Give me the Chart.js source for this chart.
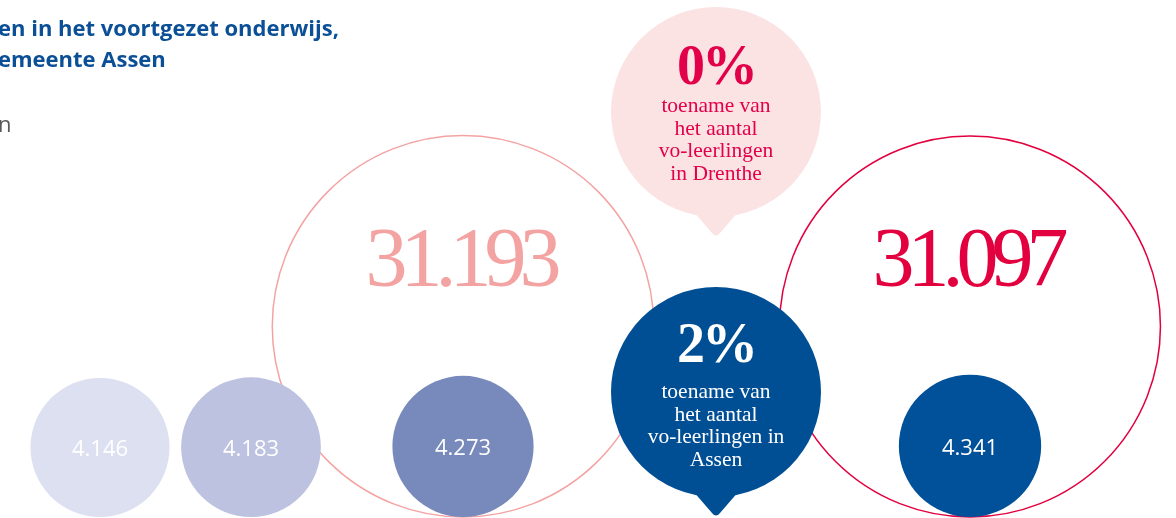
<!DOCTYPE html>
<html>
<head>
<meta charset="utf-8">
<script src="https://cdn.jsdelivr.net/npm/chart.js@4.4.1/dist/chart.umd.min.js"></script>
<style>
  body { margin: 0; background: #fff; }
  #wrap { position: relative; width: 1176px; height: 518px; overflow: hidden; }
  #chart { position: absolute; left: 0; top: 0; }
  .titel { position: absolute; left: -2px; font-family: "Open Sans", sans-serif; font-size: 22px; line-height: 31px; white-space: nowrap; }
  #t1 { top: 12px; color: #0b4f96; font-weight: 700; }
  #t2 { top: 108px; color: #58595b; }
</style>
</head>
<body>
<div id="wrap">
  <canvas id="chart" width="1176" height="518"></canvas>
  <div class="titel" id="t1">en in het voortgezet onderwijs,<br>emeente Assen</div>
  <div class="titel" id="t2">n</div>
</div>
<script>
// waarden
const assenValues = [4146, 4183, 4273, 4341];
const assenColors = ['#dde0f0', '#bcc2e0', '#7889bc', '#00509a'];
const drentheValues = [31193, 31097];
const drentheColors = ['#f4a3a3', '#e2003f'];
const pctValues = [0, 2];
const pctLines = [
    ['toename van', 'het aantal', 'vo-leerlingen', 'in Drenthe'],
    ['toename van', 'het aantal', 'vo-leerlingen in', 'Assen']
];
const pctFill = ['#fce3e3', '#004f95'];
const pctText = ['#e3004b', '#ffffff'];

// opmaak
const assenSlots = [100, 251, 463, 970];
const drentheSlots = [463, 970];
const calloutSlots = [{ x: 716, y: 112 }, { x: 716, y: 392 }];
const calloutR = 105;
const baseline = 517;
const k = 1.08; // straal = k * wortel(waarde)

const rad = v => k * Math.sqrt(v);
const fmt = v => v.toLocaleString('nl-NL');

const assenData = assenValues.map((v, i) => ({ x: assenSlots[i], y: baseline - rad(v), r: rad(v) }));
const drentheData = drentheValues.map((v, i) => ({ x: drentheSlots[i], y: baseline - rad(v), r: rad(v) }));
const calloutData = pctValues.map((v, i) => ({ x: calloutSlots[i].x, y: calloutSlots[i].y, r: calloutR }));

// staartjes en teksten
const labelPlugin = {
    id: 'labels',
    afterDatasetsDraw(chart) {
        const ctx = chart.ctx;
        ctx.save();

        // staartjes van de tekstballonnen
        chart.getDatasetMeta(2).data.forEach((pt, i) => {
            const tip = pt.y + calloutR + (i === 0 ? 20 : 20);
            ctx.fillStyle = pctFill[i];
            ctx.beginPath();
            ctx.moveTo(pt.x - 30, pt.y + calloutR - 14);
            ctx.lineTo(pt.x - 4, tip - 4);
            ctx.quadraticCurveTo(pt.x, tip + 1, pt.x + 4, tip - 4);
            ctx.lineTo(pt.x + 30, pt.y + calloutR - 14);
            ctx.closePath();
            ctx.fill();
        });

        ctx.textAlign = 'center';
        ctx.textBaseline = 'alphabetic';

        // percentages
        chart.getDatasetMeta(2).data.forEach((pt, i) => {
            ctx.fillStyle = pctText[i];
            ctx.font = 'bold 56px "Liberation Serif", serif';
            ctx.letterSpacing = '-3px';
            ctx.fillText(pctValues[i] + '%', pt.x, pt.y - 28 + (i === 1 ? -2 : 0));
            ctx.letterSpacing = '0px';
            ctx.font = '21.5px "Liberation Serif", serif';
            pctLines[i].forEach((line, j) => {
                ctx.fillText(line, pt.x, pt.y + 0 + j * 22.5 + (i === 1 ? 6 : 0));
            });
        });

        // grote getallen Drenthe
        ctx.font = '84px "Liberation Serif", serif';
        ctx.letterSpacing = '-7px';
        chart.getDatasetMeta(0).data.forEach((pt, i) => {
            ctx.fillStyle = drentheColors[i];
            ctx.fillText(fmt(drentheValues[i]), pt.x - 3, 286);
        });
        ctx.letterSpacing = '0px';

        // kleine getallen Assen
        ctx.font = '22px "Open Sans", sans-serif';
        ctx.fillStyle = '#ffffff';
        chart.getDatasetMeta(1).data.forEach((pt, i) => {
            ctx.fillText(fmt(assenValues[i]), pt.x, pt.y + 9);
        });
        ctx.restore();
    }
};

new Chart(document.getElementById('chart'), {
    type: 'bubble',
    data: {
        datasets: [
            {
                label: 'Drenthe',
                data: drentheData,
                backgroundColor: 'rgba(255,255,255,0)',
                borderColor: drentheColors,
                borderWidth: 1.5,
                clip: false,
                order: 3
            },
            {
                label: 'Assen',
                data: assenData,
                backgroundColor: assenColors,
                borderWidth: 0,
                clip: false,
                order: 2
            },
            {
                label: 'toename',
                data: calloutData,
                backgroundColor: pctFill,
                borderWidth: 0,
                clip: false,
                order: 1
            }
        ]
    },
    options: {
        responsive: false,
        animation: false,
        events: [],
        layout: { padding: 0, autoPadding: false },
        scales: {
            x: { type: 'linear', min: 0, max: 1176, display: false },
            y: { type: 'linear', min: 0, max: 518, reverse: true, display: false }
        },
        plugins: {
            legend: { display: false },
            tooltip: { enabled: false }
        }
    },
    plugins: [labelPlugin]
});
</script>
</body>
</html>
